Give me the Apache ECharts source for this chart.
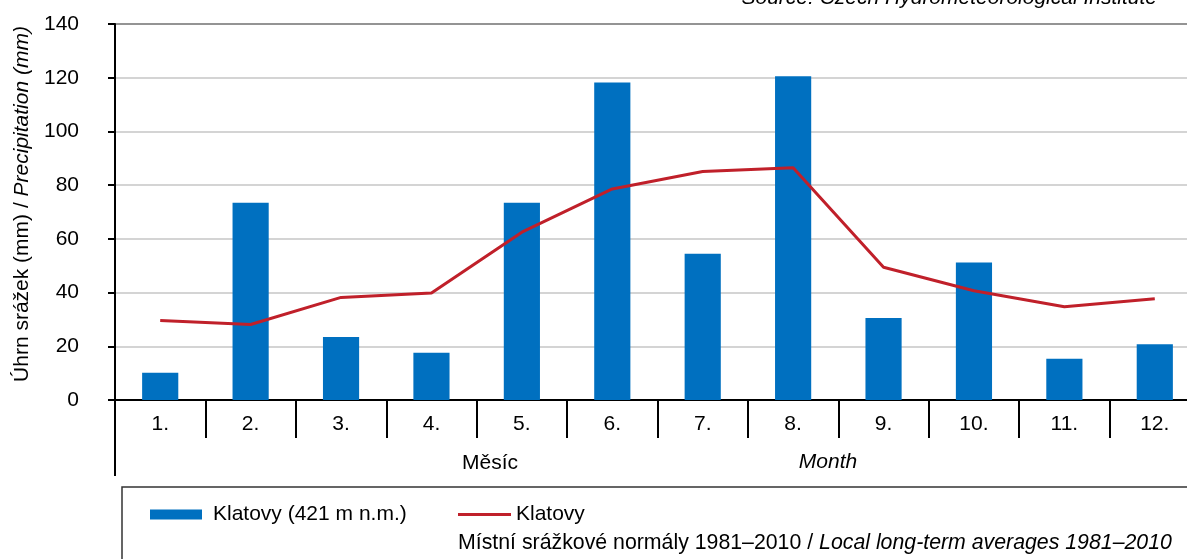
<!DOCTYPE html>
<html>
<head>
<meta charset="utf-8">
<script src="https://cdn.jsdelivr.net/npm/echarts@6/dist/echarts.min.js"></script>
<style>
  html, body { margin: 0; padding: 0; background: #fff; }
  #chart { width: 1187px; height: 559px; }
</style>
</head>
<body>
<div id="chart"></div>
<script>
// month labels and values (mm)
const months = ['1.', '2.', '3.', '4.', '5.', '6.', '7.', '8.', '9.', '10.', '11.', '12.'];
const precip2012 = [10.1, 73.4, 23.5, 17.6, 73.4, 118.2, 54.5, 120.5, 30.5, 51.2, 15.4, 20.8];
const normals = [29.6, 28.1, 38.2, 39.8, 62.5, 78.6, 85.1, 86.5, 49.4, 40.7, 34.7, 37.7];

const FONT = '"Liberation Sans", Arial, sans-serif';
const BLUE = '#0070C0';
const RED = '#C0202A';

const chart = echarts.init(document.getElementById('chart'));

chart.setOption({
  animation: false,
  textStyle: { fontFamily: FONT, color: '#000' },
  grid: {
    left: 115, top: 24, width: 1085, height: 376,
    outerBoundsMode: 'none',
    containLabel: false,
    show: true, borderColor: '#000', borderWidth: 2
  },
  legend: [
    {
      data: ['Klatovy (421 m n.m.)'],
      left: 150, top: 504, padding: 0,
      itemWidth: 52, itemHeight: 10,
      icon: 'rect',
      textStyle: { fontSize: 21, fontFamily: FONT, color: '#000', padding: [0, 0, 0, 6] }
    },
    {
      data: ['Klatovy'],
      left: 458, top: 504, padding: 0,
      itemWidth: 53, itemHeight: 3,
      icon: 'rect',
      textStyle: { fontSize: 21, fontFamily: FONT, color: '#000' }
    }
  ],
  xAxis: {
    type: 'category',
    data: months,
    boundaryGap: true,
    axisLine: { lineStyle: { color: '#000', width: 2 } },
    axisTick: { show: true, interval: 0, length: 38, lineStyle: { color: '#000', width: 2 } },
    axisLabel: { interval: 0, margin: 14, fontSize: 21, color: '#000', fontFamily: FONT }
  },
  yAxis: {
    type: 'value',
    min: 0, max: 140, interval: 20,
    name: '{a|Úhrn srážek (mm) / }{b|Precipitation (mm)}',
    nameLocation: 'middle',
    nameGap: 77,
    nameRotate: 90,
    nameTextStyle: {
      padding: [0, 0, 0, 16],
      rich: {
        a: { fontSize: 21, fontFamily: FONT, color: '#000' },
        b: { fontSize: 21, fontFamily: FONT, color: '#000', fontStyle: 'italic' }
      }
    },
    axisLine: { show: true, lineStyle: { color: '#000', width: 2 } },
    axisTick: { show: true, length: 7, lineStyle: { color: '#000', width: 2 } },
    axisLabel: { margin: 36, fontSize: 21, color: '#000', fontFamily: FONT },
    splitLine: { lineStyle: { color: '#C6C6C6', width: 1.5 } }
  },
  series: [
    {
      name: 'Klatovy (421 m n.m.)',
      type: 'bar',
      data: precip2012,
      barWidth: '40%',
      itemStyle: { color: BLUE }
    },
    {
      name: 'Klatovy',
      type: 'line',
      data: normals,
      symbol: 'none',
      lineStyle: { color: RED, width: 3 },
      itemStyle: { color: RED }
    }
  ],
  graphic: [
    {
      type: 'text', right: 30, top: -12,
      style: {
        text: 'Source: Czech Hydrometeorological Institute',
        font: 'italic 21px ' + FONT, fill: '#000'
      }
    },
    {
      type: 'line',
      shape: { x1: 115, y1: 400, x2: 115, y2: 476 },
      style: { stroke: '#000', lineWidth: 2 }
    },
    {
      type: 'text', x: 490, y: 463,
      style: { text: 'Měsíc', font: '21px ' + FONT, fill: '#000', align: 'center', verticalAlign: 'middle' }
    },
    {
      type: 'text', x: 828, y: 462,
      style: { text: 'Month', font: 'italic 21px ' + FONT, fill: '#000', align: 'center', verticalAlign: 'middle' }
    },
    {
      type: 'rect',
      shape: { x: 122, y: 487, width: 1100, height: 120 },
      style: { fill: 'none', stroke: '#333', lineWidth: 1.5 },
      z: -1
    },
    {
      type: 'text', x: 458, y: 543,
      style: {
        text: '{a|Místní srážkové normály 1981–2010 / }{b|Local long-term averages 1981–2010}',
        verticalAlign: 'middle',
        rich: {
          a: { fontSize: 21.3, fontFamily: FONT, fill: '#000' },
          b: { fontSize: 21.3, fontFamily: FONT, fill: '#000', fontStyle: 'italic' }
        }
      }
    }
  ]
});
</script>
</body>
</html>
